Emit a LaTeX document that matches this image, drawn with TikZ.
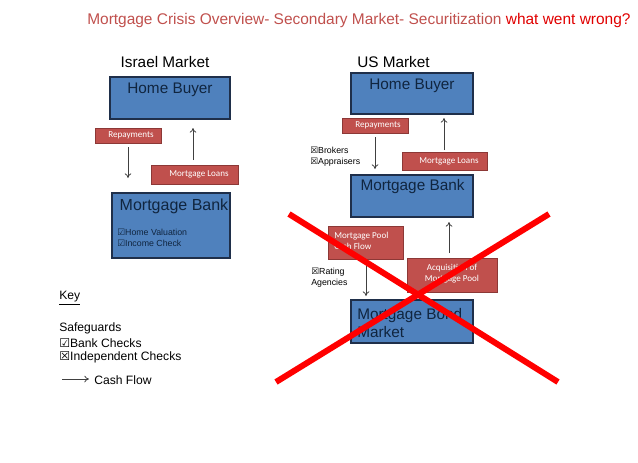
\documentclass[tikz,border=0pt]{standalone}
\usepackage{fontspec}
\setmainfont{Liberation Sans}
\newfontfamily\calib{Carlito}
\newfontfamily\symf{DejaVu Sans}
\usetikzlibrary{arrows.meta}
\definecolor{boxblue}{HTML}{4F81BD}
\definecolor{boxblueline}{HTML}{1F2F4A}
\definecolor{bluetext}{HTML}{10253F}
\definecolor{boxred}{HTML}{C0504D}
\definecolor{boxredline}{HTML}{8C3836}
\definecolor{titlered}{HTML}{C0504D}
\definecolor{wrongred}{HTML}{E00000}
\definecolor{arrowgray}{HTML}{404040}
\definecolor{xred}{HTML}{FF0000}
\newcommand{\chk}{{\symf\char"2611}}
\newcommand{\xchk}{{\symf\char"2612}}
\tikzset{
  bluebox/.style={draw=boxblueline, line width=0.9pt, fill=boxblue, inner sep=0pt},
  redbox/.style={draw=boxredline, line width=0.6pt, fill=boxred, inner sep=0pt},
  redtext/.style={text=white, font=\calib\fontsize{6.8}{8.25}\selectfont, inner sep=0pt},
  bigtext/.style={text=bluetext, font=\fontsize{11.5}{13}\selectfont, inner sep=0pt},
  smalltext/.style={font=\fontsize{6.6}{8}\selectfont, inner sep=0pt, anchor=west},
  keytext/.style={font=\fontsize{9.1}{11}\selectfont, inner sep=0pt, anchor=west},
  flow/.style={draw=arrowgray, line width=0.6pt, -{To[length=3.5pt,width=5pt]}},
  crossline/.style={draw=xred, line width=4.5pt}
}
\begin{document}
\begin{tikzpicture}[x=0.75pt,y=-0.75pt]
\useasboundingbox (0,0) rectangle (638,462);
% title
\node[anchor=west, inner sep=0pt, font=\fontsize{11.6}{13}\selectfont] (title) at (87,20)
  {\color{titlered}Mortgage Crisis Overview- Secondary Market- Securitization \color{wrongred}what went wrong?};
% headings
\node[inner sep=0pt, font=\fontsize{11.5}{13}\selectfont] (israel) at (165,62) {Israel Market};
\node[inner sep=0pt, font=\fontsize{11.5}{13}\selectfont] (us) at (393.5,62) {US Market};

% Israel boxes
\node[bluebox, minimum width=90pt, minimum height=31.5pt] (ihb) at (170,98) {};
\node[bigtext] (ihbt) at (170,90) {Home Buyer};
\node[redbox, minimum width=49.5pt, minimum height=11.25pt] (irep) at (128,135.5) {};
\node[redtext] (irept) at (131,135.5) {Repayments};
\node[redbox, minimum width=65.25pt, minimum height=14.25pt] (iml) at (194.5,174.5) {};
\node[redtext] (imlt) at (199,174.5) {Mortgage Loans};
\node[bluebox, minimum width=88.5pt, minimum height=48.75pt] (imb) at (171,225.5) {};
\node[bigtext, font=\fontsize{12}{13}\selectfont] (imbt) at (174,206) {Mortgage Bank};
\node[smalltext, text=bluetext] (ichk1) at (117,232) {\chk Home Valuation};
\node[smalltext, text=bluetext] (ichk2) at (117,243) {\chk Income Check};
\coordinate (ia1) at (128,147); \coordinate (ia2) at (128,178);
\coordinate (ib1) at (193,160); \coordinate (ib2) at (193,128);
\draw[flow] (ia1) -- (ia2);
\draw[flow] (ib1) -- (ib2);

% US boxes
\node[bluebox, minimum width=91.5pt, minimum height=30.75pt] (uhb) at (412,93.5) {};
\node[bigtext] (uhbt) at (412,86) {Home Buyer};
\node[redbox, minimum width=49.5pt, minimum height=11.25pt] (urep) at (375,125.5) {};
\node[redtext] (urept) at (378,125.5) {Repayments};
\node[redbox, minimum width=63.75pt, minimum height=13.5pt] (uml) at (444.5,161) {};
\node[redtext] (umlt) at (449,161) {Mortgage Loans};
\node[bluebox, minimum width=91.5pt, minimum height=31.5pt] (umb) at (412,196) {};
\node[bigtext] (umbt) at (412.5,187) {Mortgage Bank};
\node[redbox, minimum width=56.25pt, minimum height=24.75pt] (upool) at (365.5,242.5) {};
\node[redtext, anchor=west, align=left] (upoolt) at (334,240.5) {Mortgage Pool\\Cash Flow};
\node[redbox, minimum width=67.5pt, minimum height=25.5pt] (uacq) at (452,275) {};
\node[redtext, align=center] (uacqt) at (452,273.5) {Acquisition of\\Mortgage Pool};
\node[bluebox, minimum width=91.5pt, minimum height=32.25pt] (ubond) at (412,321.5) {};
\node[bigtext, anchor=west, align=left, font=\fontsize{11.5}{13.5}\selectfont] (ubondt) at (357,323) {Mortgage Bond\\Market};
\node[smalltext] (ubrok) at (310,150) {\xchk Brokers};
\node[smalltext] (uappr) at (310,162) {\xchk Appraisers};
\node[smalltext, align=left] (urate) at (311,277.5) {\xchk Rating\\Agencies};
\coordinate (ua1) at (375,137); \coordinate (ua2) at (375,169);
\coordinate (ub1) at (444,150); \coordinate (ub2) at (444,118);
\coordinate (uc1) at (366,260); \coordinate (uc2) at (366,296);
\coordinate (ud1) at (449,253); \coordinate (ud2) at (449,222);
\draw[flow] (ua1) -- (ua2);
\draw[flow] (ub1) -- (ub2);
\draw[flow] (uc1) -- (uc2);
\draw[flow] (ud1) -- (ud2);

% key
\node[keytext] (key) at (59,298) {\underline{Key}};
\node[keytext] (safe) at (59,328) {Safeguards};
\node[keytext] (bank) at (59,343) {\chk Bank Checks};
\node[keytext] (indep) at (59,357) {\xchk Independent Checks};
\node[keytext] (cash) at (94,380) {Cash Flow};
\coordinate (ka) at (62,379); \coordinate (kb) at (89,379);
\draw[flow] (ka) -- (kb);

% red cross
\coordinate (x1) at (289,214); \coordinate (x2) at (558,382);
\coordinate (x3) at (549,214); \coordinate (x4) at (276,382);
\draw[crossline] (x1) -- (x2);
\draw[crossline] (x3) -- (x4);
\end{tikzpicture}
\end{document}
